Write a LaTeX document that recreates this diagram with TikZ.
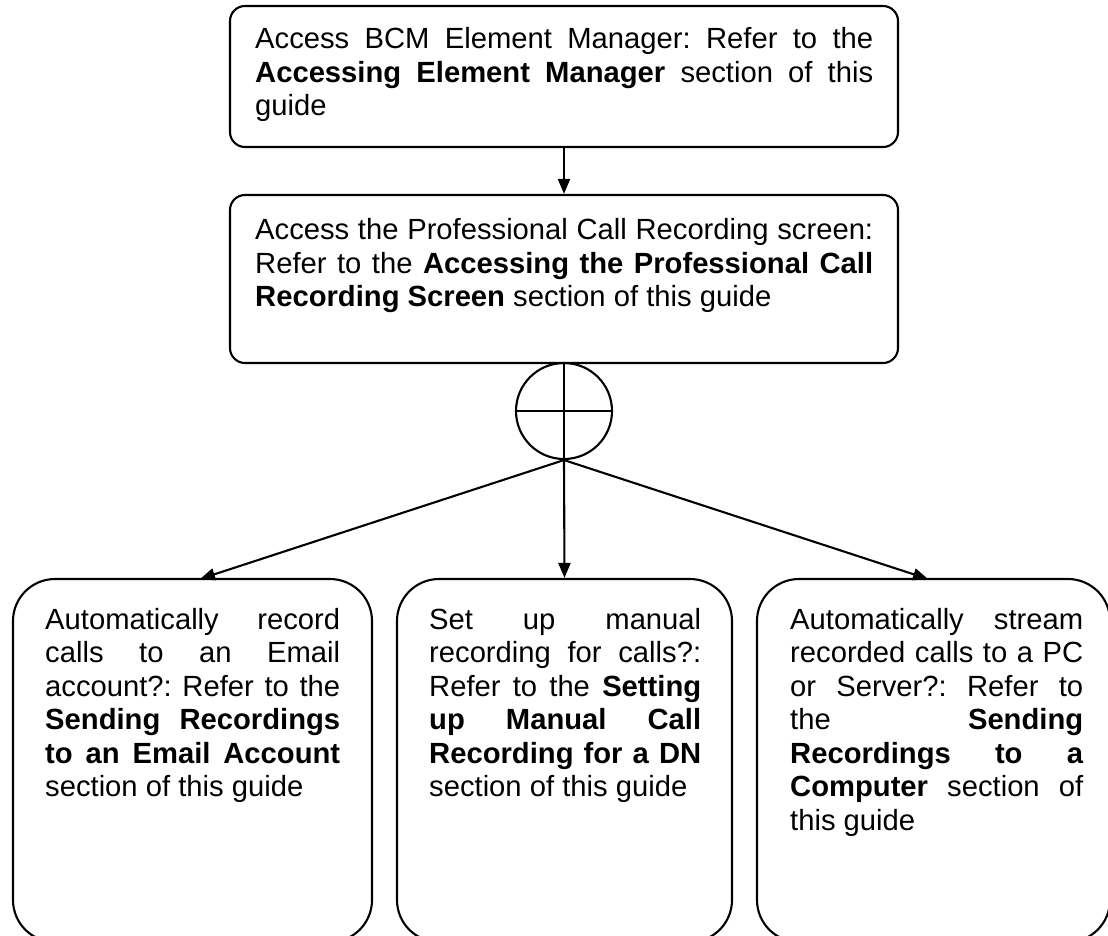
\documentclass[tikz,border=0pt]{standalone}
\usepackage{fontspec}
\setmainfont{Liberation Sans}
\usetikzlibrary{arrows.meta}
\tikzset{
  ln/.style={line width=2.1pt},
  box/.style={draw, ln, rounded corners=15pt, inner sep=0pt},
  bigbox/.style={draw, ln, rounded corners=42pt, inner sep=0pt},
  txt/.style={anchor=base west, inner sep=0pt, align=justify,
    font=\fontsize{29.2}{33.5}\selectfont},
  arr/.style={ln, -{Triangle[length=15pt,width=12pt]}},
  hub/.style={draw, ln, circle, minimum size=96pt, inner sep=0pt},
}
\frenchspacing
\begin{document}
\begin{tikzpicture}[x=1pt,y=-1pt]
\useasboundingbox (0,0) rectangle (1108,935);
\clip (0,0) rectangle (1108,935);
\hyphenpenalty=10000 \exhyphenpenalty=10000 \tolerance=10000 \pretolerance=-1
% boxes
\node[box, minimum width=668pt, minimum height=141pt] (b1) at (564,76.5) {};
\node[box, minimum width=668pt, minimum height=168pt] (b2) at (564,279) {};
\node[hub] (c) at (564,411) {};
\node[bigbox, minimum width=359pt, minimum height=363pt] (e1) at (192.5,760.5) {};
\node[bigbox, minimum width=335pt, minimum height=363pt] (e2) at (564.5,760.5) {};
\node[bigbox, minimum width=353pt, minimum height=363pt] (e3) at (933.5,760.5) {};
% texts
\node[txt, text width=618pt] (t1txt) at (255,48.5) {\frenchspacing Access BCM Element Manager: Refer to the\linebreak \textbf{Accessing Element Manager} section of this\linebreak guide};
\node[txt, text width=618pt] (t2txt) at (255,239.5) {\frenchspacing Access the Professional Call Recording screen:\linebreak Refer to the \textbf{Accessing the Professional Call}\linebreak \textbf{Recording Screen} section of this guide};
\node[txt, text width=295pt] (e1txt) at (45,629) {\frenchspacing Automatically record\linebreak calls to an Email\linebreak account?: Refer to the\linebreak \textbf{Sending Recordings}\linebreak \textbf{to an Email Account}\linebreak section of this guide};
\node[txt, text width=272pt] (e2txt) at (429,629) {\frenchspacing Set up manual\linebreak recording for calls?:\linebreak Refer to the \textbf{Setting}\linebreak \textbf{up Manual Call}\linebreak \textbf{Recording for a DN}\linebreak section of this guide};
\node[txt, text width=293pt] (e3txt) at (790,629) {\frenchspacing Automatically stream\linebreak recorded calls to a PC\linebreak or Server?: Refer to\linebreak the \textbf{Sending}\linebreak \textbf{Recordings to a}\linebreak \textbf{Computer} section of\linebreak this guide};
% connectors
\coordinate (p1) at (200,579);
\coordinate (p3) at (928,579);
\draw[arr] (b1.south) -- (b2.north);
\draw[ln] (b2.south) -- (c.south);
\draw[ln] (c.west) -- (c.east);
\draw[arr] (c.south) -- (p1);
\draw[arr] (c.south) -- (e2.north);
\draw[arr] (c.south) -- (p3);
\end{tikzpicture}
\end{document}
